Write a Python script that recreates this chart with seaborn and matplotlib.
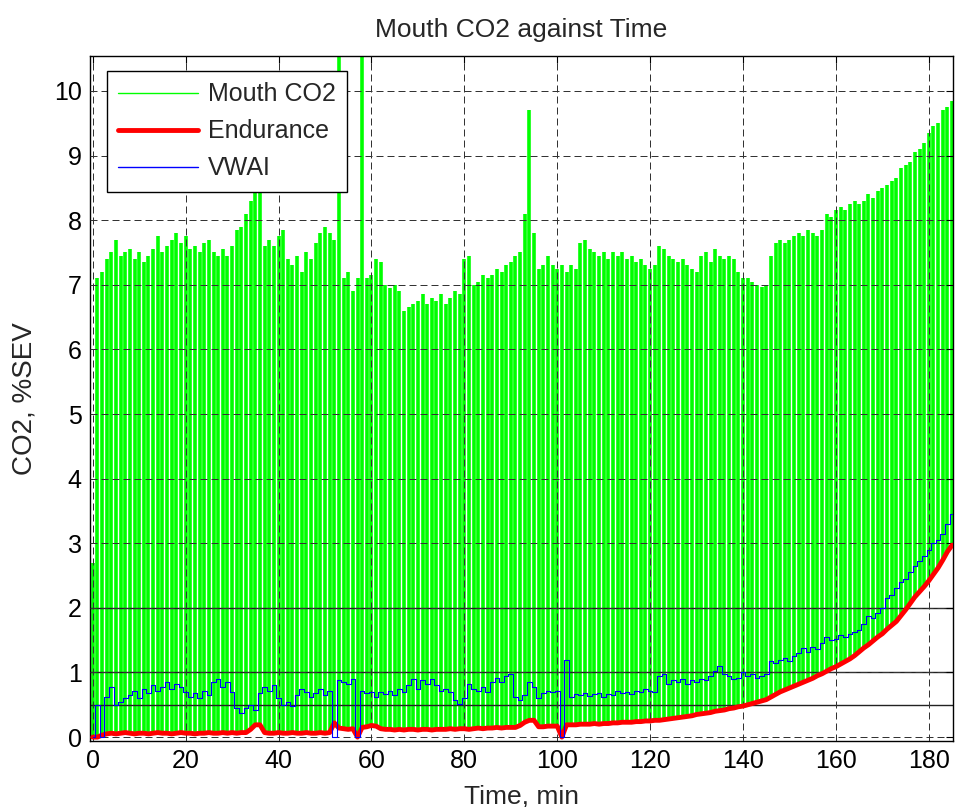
import numpy as np
import pandas as pd
import seaborn as sns
import matplotlib.pyplot as plt
from matplotlib.lines import Line2D

# one sample per minute, 0..185 min
minutes = list(range(0, 186))

# upper end of each breath of the mouth CO2 trace, %SEV
mouth_peak = [
    2.7, 7.1, 7.2, 7.4, 7.5, 7.7, 7.45, 7.5, 7.55, 7.4,          # 0-9
    7.5, 7.35, 7.45, 7.55, 7.75, 7.5, 7.6, 7.7, 7.8, 7.65,       # 10-19
    7.75, 7.55, 7.6, 7.5, 7.65, 7.7, 7.5, 7.45, 7.55, 7.45,      # 20-29
    7.6, 7.85, 7.9, 8.1, 8.3, 8.9, 8.6, 7.6, 7.7, 7.6,           # 30-39
    7.75, 7.85, 7.4, 7.3, 7.45, 7.2, 7.5, 7.4, 7.65, 7.8,        # 40-49
    7.9, 7.8, 7.7, 10.8, 7.1, 7.2, 6.9, 7.1, 10.8, 7.1,          # 50-59
    7.15, 7.4, 7.35, 7.0, 6.95, 7.0, 6.9, 6.6, 6.65, 6.7,        # 60-69
    6.75, 6.85, 6.7, 6.8, 6.75, 6.85, 6.7, 6.8, 6.9, 6.85,       # 70-79
    7.4, 7.45, 7.0, 7.05, 7.15, 7.1, 7.15, 7.25, 7.2, 7.3,       # 80-89
    7.35, 7.45, 7.5, 8.1, 9.7, 7.8, 7.25, 7.3, 7.45, 7.3,        # 90-99
    7.25, 7.3, 7.2, 7.3, 7.25, 7.65, 7.7, 7.55, 7.5, 7.45,       # 100-109
    7.5, 7.4, 7.5, 7.45, 7.5, 7.4, 7.45, 7.35, 7.4, 7.3,         # 110-119
    7.25, 7.3, 7.6, 7.55, 7.45, 7.4, 7.35, 7.4, 7.3, 7.25,       # 120-129
    7.2, 7.45, 7.5, 7.35, 7.55, 7.45, 7.4, 7.45, 7.4, 7.2,       # 130-139
    7.1, 7.1, 7.05, 7.0, 6.97, 7.0, 7.45, 7.65, 7.7, 7.65,       # 140-149
    7.7, 7.75, 7.8, 7.75, 7.85, 7.8, 7.75, 7.85, 8.1, 8.05,      # 150-159
    8.15, 8.2, 8.15, 8.25, 8.3, 8.25, 8.3, 8.4, 8.35, 8.45,      # 160-169
    8.5, 8.55, 8.6, 8.65, 8.8, 8.85, 8.9, 9.05, 9.1, 9.2,        # 170-179
    9.35, 9.45, 9.5, 9.7, 9.75, 9.85,                            # 180-185
]

endurance = [
    0.0, 0.0, 0.03, 0.05, 0.06, 0.05, 0.06, 0.07, 0.06, 0.05,    # 0-9
    0.06, 0.06, 0.05, 0.06, 0.07, 0.06, 0.06, 0.05, 0.06, 0.07,  # 10-19
    0.06, 0.06, 0.05, 0.06, 0.06, 0.07, 0.06, 0.06, 0.07, 0.06,  # 20-29
    0.07, 0.06, 0.07, 0.07, 0.12, 0.19, 0.19, 0.07, 0.06, 0.06,  # 30-39
    0.07, 0.06, 0.06, 0.07, 0.06, 0.06, 0.07, 0.06, 0.06, 0.07,  # 40-49
    0.06, 0.07, 0.22, 0.14, 0.13, 0.12, 0.13, 0.0, 0.15, 0.16,   # 50-59
    0.18, 0.17, 0.13, 0.12, 0.12, 0.11, 0.12, 0.11, 0.12, 0.12,  # 60-69
    0.11, 0.12, 0.12, 0.11, 0.12, 0.12, 0.12, 0.13, 0.12, 0.13,  # 70-79
    0.13, 0.12, 0.13, 0.14, 0.13, 0.14, 0.14, 0.15, 0.14, 0.15,  # 80-89
    0.15, 0.15, 0.18, 0.23, 0.26, 0.26, 0.16, 0.16, 0.17, 0.17,  # 90-99
    0.17, 0.0, 0.19, 0.19, 0.19, 0.2, 0.2, 0.2, 0.21, 0.2,       # 100-109
    0.21, 0.21, 0.22, 0.22, 0.23, 0.23, 0.23, 0.24, 0.24, 0.25,  # 110-119
    0.25, 0.26, 0.26, 0.27, 0.28, 0.29, 0.3, 0.31, 0.32, 0.33,   # 120-129
    0.35, 0.36, 0.37, 0.38, 0.4, 0.41, 0.42, 0.44, 0.45, 0.47,   # 130-139
    0.48, 0.5, 0.52, 0.54, 0.56, 0.58, 0.62, 0.66, 0.7, 0.73,    # 140-149
    0.76, 0.79, 0.82, 0.85, 0.88, 0.91, 0.95, 0.98, 1.02, 1.06,  # 150-159
    1.09, 1.13, 1.17, 1.21, 1.26, 1.32, 1.38, 1.43, 1.49, 1.55,  # 160-169
    1.6, 1.67, 1.73, 1.79, 1.88, 1.97, 2.07, 2.17, 2.25, 2.33,   # 170-179
    2.42, 2.52, 2.62, 2.74, 2.87, 2.97,                          # 180-185
]

vwai = [
    0.0, 0.5, 0.0, 0.62, 0.77, 0.5, 0.55, 0.6, 0.65, 0.72,       # 0-9
    0.6, 0.75, 0.68, 0.8, 0.72, 0.78, 0.85, 0.75, 0.82, 0.78,    # 10-19
    0.7, 0.62, 0.68, 0.6, 0.72, 0.65, 0.85, 0.9, 0.78, 0.85,     # 20-29
    0.7, 0.45, 0.38, 0.45, 0.5, 0.42, 0.68, 0.78, 0.72, 0.8,     # 30-39
    0.6, 0.5, 0.55, 0.48, 0.65, 0.75, 0.7, 0.62, 0.68, 0.75,     # 40-49
    0.65, 0.72, 0.0, 0.88, 0.85, 0.82, 0.9, 0.0, 0.72, 0.68,     # 50-59
    0.7, 0.62, 0.7, 0.66, 0.72, 0.65, 0.75, 0.7, 0.8, 0.9,       # 60-69
    0.75, 0.88, 0.82, 0.9, 0.8, 0.72, 0.75, 0.7, 0.58, 0.52,     # 70-79
    0.6, 0.82, 0.75, 0.72, 0.78, 0.7, 0.85, 0.92, 0.85, 0.95,    # 80-89
    0.98, 0.62, 0.58, 0.65, 0.85, 0.78, 0.6, 0.68, 0.72, 0.7,    # 90-99
    0.72, 0.0, 1.19, 0.62, 0.66, 0.65, 0.68, 0.64, 0.66, 0.68,   # 100-109
    0.62, 0.66, 0.65, 0.72, 0.68, 0.7, 0.66, 0.72, 0.7, 0.75,    # 110-119
    0.72, 0.7, 0.95, 0.98, 0.82, 0.88, 0.85, 0.9, 0.82, 0.88,    # 120-129
    0.85, 0.9, 0.88, 0.95, 1.02, 1.1, 0.98, 0.95, 0.9, 0.92,     # 130-139
    1.0, 0.95, 0.98, 0.92, 0.95, 0.97, 1.18, 1.15, 1.2, 1.22,    # 140-149
    1.18, 1.25, 1.3, 1.38, 1.32, 1.4, 1.36, 1.45, 1.55, 1.5,     # 150-159
    1.52, 1.58, 1.55, 1.6, 1.62, 1.65, 1.75, 1.88, 1.85, 1.92,   # 160-169
    2.0, 2.15, 2.2, 2.3, 2.4, 2.45, 2.55, 2.65, 2.72, 2.8,       # 170-179
    2.9, 3.0, 3.05, 3.15, 3.3, 3.45,                             # 180-185
]

ref_levels = [0.5, 1, 2]
x_ticks = list(range(0, 181, 20))
y_ticks = list(range(0, 11))

df = pd.DataFrame({'time': minutes, 'mouth': mouth_peak,
                   'endurance': endurance, 'vwai': vwai})

sns.set_style('white')
plt.rcParams['font.family'] = ['Liberation Sans', 'DejaVu Sans']

fig = plt.figure(figsize=(9.55, 8.07), dpi=100)
ax = fig.add_axes([0.0942, 0.0818, 0.9037, 0.8488])

# breath-by-breath mouth CO2 drawn as vertical strokes from trough to peak
ax.vlines(df['time'], df['endurance'], df['mouth'], color='#00ff00',
          linewidth=2.6, zorder=1)

for lvl in ref_levels:
    ax.axhline(lvl, color='#222222', linewidth=1.0, zorder=2)

sns.lineplot(data=df, x='time', y='endurance', ax=ax, color='#ff0000',
             linewidth=3.5, legend=False, zorder=3)
sns.lineplot(data=df, x='time', y='vwai', ax=ax, color='#0000ff',
             linewidth=0.8, drawstyle='steps-mid', legend=False, zorder=4)

ax.set_xlim(-0.6, 185.2)
ax.set_ylim(-0.06, 10.54)
ax.set_xticks(x_ticks)
ax.set_yticks(y_ticks)
ax.set_axisbelow(False)
ax.grid(True, linestyle=(0, (7, 4)), color='#333333', linewidth=0.72)
ax.tick_params(direction='in', length=5, width=0.8, top=True, right=True,
               labelsize=18, colors='black', pad=6)
for sp in ax.spines.values():
    sp.set_visible(True)
    sp.set_color('black')
    sp.set_linewidth(1.0)

ax.set_xlabel('Time, min', fontsize=19, labelpad=8)
ax.set_ylabel('CO2, %SEV', fontsize=20, labelpad=12)
ax.set_title('Mouth CO2 against Time', fontsize=19, pad=14)

handles = [Line2D([], [], color='#00ff00', linewidth=1.0),
           Line2D([], [], color='#ff0000', linewidth=3.5),
           Line2D([], [], color='#0000ff', linewidth=1.0)]
leg = ax.legend(handles, ['Mouth CO2', 'Endurance', 'VWAI'],
                loc='upper left', bbox_to_anchor=(0.0197, 0.978),
                borderaxespad=0, fontsize=18, fancybox=False, framealpha=1,
                edgecolor='black', handlelength=3.2, handletextpad=0.4,
                labelspacing=0.52, borderpad=0.45)
leg.get_frame().set_linewidth(1.0)
leg.set_zorder(10)

fig.savefig('out.png', dpi=100)
